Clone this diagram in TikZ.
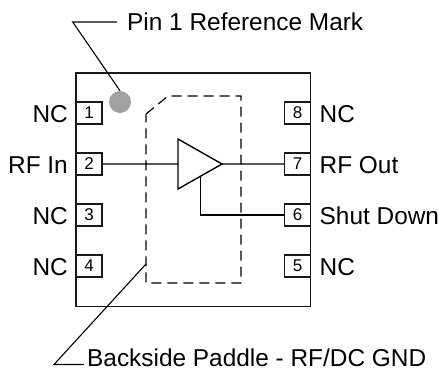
\documentclass[tikz,border=0pt]{standalone}
\usepackage{fontspec}
\setmainfont{Liberation Sans}
\begin{document}
\begin{tikzpicture}[scale=0.035146]
	\tikzset{
		pinbox/.style={draw=black!90, line width=1.2pt, minimum width=26pt, minimum height=22pt, inner sep=0pt, font=\fontsize{17}{17}\selectfont},
		pinname/.style={inner sep=0pt, font=\fontsize{24.4}{24.4}\selectfont},
		leader/.style={line width=1.1pt}
	}
	\useasboundingbox (0,0) rectangle (439,-372);
	% package outline
	\node [draw=black!90, line width=1.3pt, inner sep=0pt, minimum width=234.7pt, minimum height=233.3pt] (pkg) at (193.35,-189.65) {};
	% paddle
	\coordinate (padA) at (146,-114);
	\coordinate (padB) at (168,-96);
	\coordinate (padC) at (241,-96);
	\coordinate (padD) at (241,-283);
	\coordinate (padE) at (146,-283);
	\draw [line width=1.2pt, dash pattern=on 10pt off 6pt] (padA) -- (padB) -- (padC) -- (padD) -- (padE) -- cycle;
	% pins
	\node [pinbox] (pin1) at (89,-113) {1};
	\node [pinbox] (pin2) at (89,-164) {2};
	\node [pinbox] (pin3) at (89,-215) {3};
	\node [pinbox] (pin4) at (89,-266) {4};
	\node [pinbox] (pin5) at (297.5,-266) {5};
	\node [pinbox] (pin6) at (297.5,-215) {6};
	\node [pinbox] (pin7) at (297.5,-164) {7};
	\node [pinbox] (pin8) at (297.5,-113) {8};
	% pin names
	\node [pinname, anchor=base east] (nc1) at (68,-122) {NC};
	\node [pinname, anchor=base east] (rfin) at (68,-173) {RF In};
	\node [pinname, anchor=base east] (nc3) at (68,-224) {NC};
	\node [pinname, anchor=base east] (nc4) at (68,-275) {NC};
	\node [pinname, anchor=base west] (nc5) at (319.5,-275) {NC};
	\node [pinname, anchor=base west] (shdn) at (319.5,-224) {Shut Down};
	\node [pinname, anchor=base west] (rfout) at (319.5,-173) {RF Out};
	\node [pinname, anchor=base west] (nc8) at (319.5,-122) {NC};
	% amplifier
	\coordinate (ampA) at (178,-139);
	\coordinate (ampB) at (178,-189);
	\coordinate (ampO) at (222,-164);
	\coordinate (ampI) at (178,-164);
	\coordinate (ampS) at (200.5,-176.5);
	\draw [line width=1.4pt] (ampA) -- (ampB) -- (ampO) -- cycle;
	\draw [line width=1.4pt] (pin2) -- (ampI);
	\draw [line width=1.4pt] (ampO) -- (pin7);
	\draw [line width=1.4pt] (ampS) |- (pin6);
	% pin 1 mark
	\node [circle, fill=black!37, inner sep=0pt, minimum size=22pt] (mark) at (120,-102) {};
	\node [pinname, anchor=base west] (marktext) at (127,-30) {Pin 1 Reference Mark};
	\coordinate (markbend) at (72.7,-22);
	\coordinate (markend) at (117,-22);
	\draw [leader] (markend) -- (markbend) -- (mark.north);
	% paddle label
	\node [pinname, anchor=base west] (padtext) at (87,-366.5) {Backside Paddle - RF/DC GND};
	\coordinate (padbend) at (54,-364.5);
	\coordinate (padend) at (84,-364.5);
	\coordinate (padtip) at (146,-264);
	\draw [leader] (padend) -- (padbend) -- (padtip);
\end{tikzpicture}
\end{document}
